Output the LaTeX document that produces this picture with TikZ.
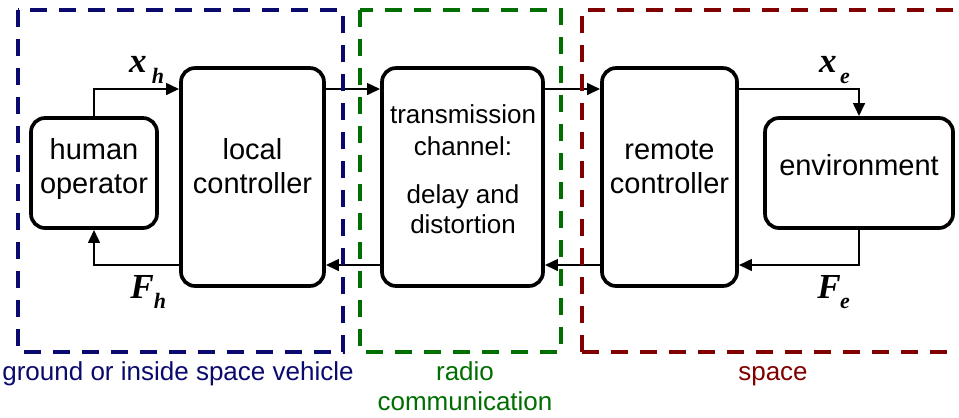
\documentclass[tikz,border=0pt]{standalone}
\usepackage{fontspec}
\setmainfont{Liberation Sans}
\newfontfamily\serifbi[BoldItalicFont={Liberation Serif Bold Italic}]{Liberation Serif}
\usetikzlibrary{arrows.meta}
\definecolor{grpblue}{RGB}{10,10,110}
\definecolor{grpgreen}{RGB}{0,110,0}
\definecolor{grpred}{RGB}{128,0,0}
\tikzset{
  blk/.style={draw, line width=2.1pt, rounded corners=0.28cm, inner sep=0pt},
  txt/.style={anchor=base, inner sep=0pt, font=\fontsize{16.5}{19}\selectfont},
  stxt/.style={anchor=base, inner sep=0pt, font=\fontsize{14.8}{17}\selectfont},
  arr/.style={line width=1.6pt, -{Triangle[length=7.4pt,width=6.5pt]}},
  grp/.style={line width=2.2pt, dash pattern=on 9.7pt off 6.8pt},
  var/.style={anchor=base, inner sep=0pt, font=\fontsize{20}{20}\selectfont\serifbi\bfseries\itshape},
  sub/.style={anchor=base, inner sep=0pt, font=\fontsize{12.5}{13}\selectfont\serifbi\bfseries\itshape},
}
\begin{document}
\begin{tikzpicture}[x=0.02cm, y=-0.02cm]
\useasboundingbox (0,0) rectangle (959,417);
% blocks
\node[blk, minimum width=2.52cm, minimum height=2.2cm] (human) at (94,173) {};
\node[blk, minimum width=2.86cm, minimum height=4.36cm] (local) at (252.5,177) {};
\node[blk, minimum width=3.22cm, minimum height=4.36cm] (trans) at (462.5,177) {};
\node[blk, minimum width=2.70cm, minimum height=4.36cm] (remote) at (669.5,177) {};
\node[blk, minimum width=3.76cm, minimum height=2.2cm] (env) at (859,173) {};
% block texts
\node[txt] (humant1) at (94,159) {human};
\node[txt] (humant2) at (94,193) {operator};
\node[txt] (localt1) at (252.5,159) {local};
\node[txt] (localt2) at (252.5,193) {controller};
\node[stxt] (transt1) at (463,123) {transmission};
\node[stxt] (transt2) at (463,155) {channel:};
\node[stxt] (transt3) at (463,203) {delay and};
\node[stxt] (transt4) at (463,233) {distortion};
\node[txt] (remotet1) at (669.5,159) {remote};
\node[txt] (remotet2) at (669.5,193) {controller};
\node[txt] (envt) at (859,175) {environment};
% levels
\coordinate (top) at (0,89);
\coordinate (bot) at (0,265);
% connectors
\draw[arr] (human.north) |- (local.west |- top);
\draw[arr] (local.east |- top) -- (trans.west |- top);
\draw[arr] (trans.east |- top) -- (remote.west |- top);
\draw[arr] (remote.east |- top) -| (env.north);
\draw[arr] (env.south) |- (remote.east |- bot);
\draw[arr] (remote.west |- bot) -- (trans.east |- bot);
\draw[arr] (trans.west |- bot) -- (local.east |- bot);
\draw[arr] (local.west |- bot) -| (human.south);
% variable labels
\node[var] (xh) at (138,72) {x};
\node[sub] (xhs) at (158,83) {h};
\node[var] (Fh) at (142,298) {F};
\node[sub] (Fhs) at (160,308) {h};
\node[var] (xe) at (828,72) {x};
\node[sub] (xes) at (845,83) {e};
\node[var] (Fe) at (829,298) {F};
\node[sub] (Fes) at (845,308) {e};
% groups
\draw[grp, grpblue] (18,10) rectangle (343,352);
\draw[grp, grpgreen] (360,10) rectangle (561,352);
\draw[grp, grpred] (582,352) -- (582,10) -- (975,10);
\draw[grp, grpred] (582,352) -- (952,352);
\node[stxt, text=grpblue] (g1) at (178,380) {ground or inside space vehicle};
\node[stxt, text=grpgreen] (g2a) at (465,380) {radio};
\node[stxt, text=grpgreen] (g2b) at (465,410) {communication};
\node[stxt, text=grpred] (g3) at (773,380) {space};
\end{tikzpicture}
\end{document}
